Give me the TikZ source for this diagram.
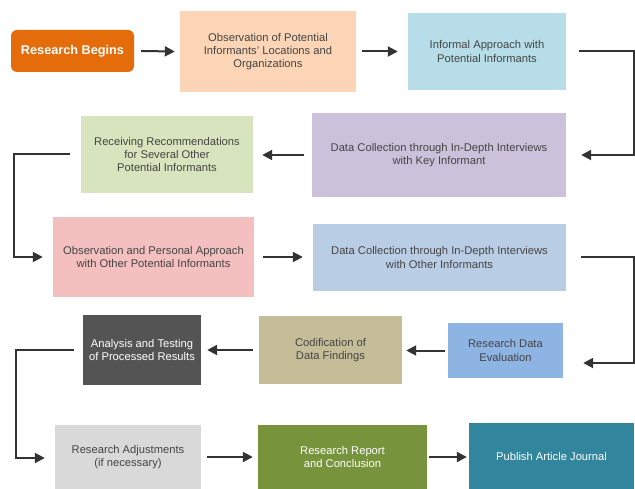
\documentclass[tikz,border=0pt]{standalone}
\usepackage{fontspec}
\setmainfont{Liberation Sans}
\usetikzlibrary{arrows.meta}
\definecolor{txt}{HTML}{454545}
\definecolor{ln}{HTML}{333333}
\definecolor{c1}{HTML}{E46C0A}
\definecolor{c2}{HTML}{FBD5B5}
\definecolor{c3}{HTML}{B7DEE8}
\definecolor{c4}{HTML}{CCC1DA}
\definecolor{c5}{HTML}{D7E4BD}
\definecolor{c6}{HTML}{F4BFBF}
\definecolor{c7}{HTML}{B9CDE5}
\definecolor{c8}{HTML}{8EB4E3}
\definecolor{c9}{HTML}{C4BD97}
\definecolor{c10}{HTML}{545454}
\definecolor{c11}{HTML}{D9D9D9}
\definecolor{c12}{HTML}{77933C}
\definecolor{c13}{HTML}{31859C}
\tikzset{
  box/.style={rectangle, draw=none, inner sep=0pt, align=center, text=txt,
    font=\fontsize{11.2}{13.3}\selectfont},
  darkbox/.style={box, text=white},
  arr/.style={draw=ln, line width=2pt, -{Triangle[length=10pt,width=10pt]}},
}
\begin{document}
\begin{tikzpicture}[x=1pt,y=-1pt]
\useasboundingbox (0,0) rectangle (635,489);
% boxes
\node[box, fill=c1, text=white, rounded corners=6pt, minimum width=123pt, minimum height=42pt,
  font=\fontsize{12.7}{15}\selectfont\bfseries] (b1) at (72.5,51) {Research Begins};
\node[box, fill=c2, minimum width=176pt, minimum height=81pt] (b2) at (268,51.5)
  {Observation of Potential\\Informants' Locations and\\Organizations};
\node[box, fill=c3, minimum width=158pt, minimum height=77pt] (b3) at (487,51.5)
  {Informal Approach with\\Potential Informants};
\node[box, fill=c4, minimum width=254pt, minimum height=84pt] (b4) at (439,155)
  {Data Collection through In-Depth Interviews\\with Key Informant};
\node[box, fill=c5, minimum width=172pt, minimum height=77pt] (b5) at (167,154.5)
  {Receiving Recommendations\\for Several Other\\Potential Informants};
\node[box, fill=c6, minimum width=201pt, minimum height=80pt] (b6) at (153.5,257)
  {Observation and Personal Approach\\with Other Potential Informants};
\node[box, fill=c7, minimum width=253pt, minimum height=67pt] (b7) at (439.5,257.5)
  {Data Collection through In-Depth Interviews\\with Other Informants};
\node[box, fill=c8, minimum width=115pt, minimum height=55pt] (b8) at (505.5,350.5)
  {Research Data\\Evaluation};
\node[box, fill=c9, minimum width=143pt, minimum height=68pt] (b9) at (330.5,350)
  {Codification of\\Data Findings};
\node[darkbox, fill=c10, minimum width=118pt, minimum height=70pt] (b10) at (142,350)
  {Analysis and Testing\\of Processed Results};
\node[box, fill=c11, minimum width=146pt, minimum height=64pt] (b11) at (128,457)
  {Research Adjustments\\(if necessary)};
\node[darkbox, fill=c12, minimum width=169pt, minimum height=64pt] (b12) at (342.5,457)
  {Research Report\\and Conclusion};
\node[darkbox, fill=c13, minimum width=165pt, minimum height=66pt] (b13) at (551.5,456)
  {Publish Article Journal};
% connectors
\draw[arr] ([xshift=7pt]b1.east) -- ([xshift=-5pt]b2.west);
\draw[arr] ([xshift=6pt]b2.east) -- ([xshift=-10pt]b3.west);
\draw[arr] ([xshift=13pt]b3.east) -- ++(55,0) |- ([xshift=15pt]b4.east);
\draw[arr] ([xshift=-8pt]b4.west) -- ([xshift=9pt]b5.east |- b4.west);
\draw[arr] ([xshift=-11pt]b5.west) -- ++(-56,0) |- ([xshift=-10pt]b6.west);
\draw[arr] ([xshift=9pt]b6.east) -- ([xshift=-10pt]b7.west |- b6.east);
\draw[arr] ([xshift=15pt]b7.east) -- ++(53,0) |- ([xshift=20pt,yshift=-12.5pt]b8.east);
\draw[arr] ([xshift=-3pt]b8.west) -- ([xshift=4pt]b9.east |- b8.west);
\draw[arr] ([xshift=-6pt]b9.west) -- ([xshift=6pt]b10.east |- b9.west);
\draw[arr] ([xshift=-9pt]b10.west) -- ++(-58,0) |- ([xshift=-10pt,yshift=-1pt]b11.west);
\draw[arr] ([xshift=6pt]b11.east) -- ([xshift=-5pt]b12.west);
\draw[arr] ([xshift=2pt]b12.east) -- ([xshift=-2pt]b13.west |- b12.east);
\end{tikzpicture}
\end{document}
